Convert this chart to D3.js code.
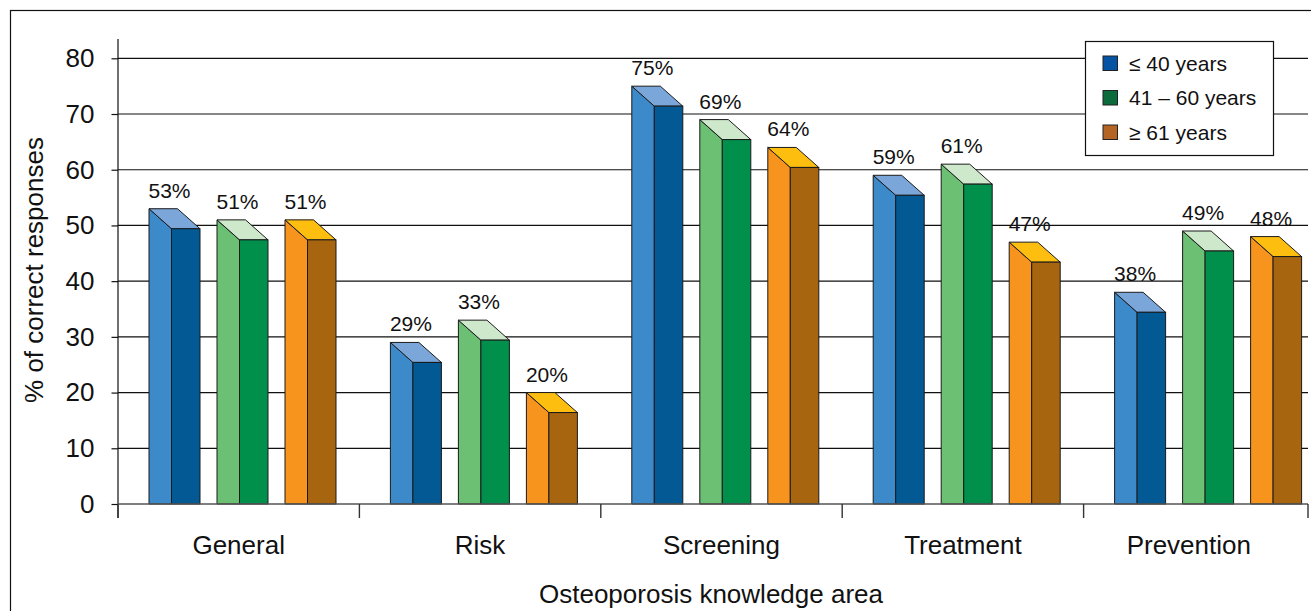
<!DOCTYPE html>
<html>
<head>
<meta charset="utf-8">
<script src="https://cdn.jsdelivr.net/npm/d3@7"></script>
<style>
  html, body { margin: 0; padding: 0; background: #fff; }
  svg { display: block; }
  text { font-family: "Liberation Sans", Arial, Helvetica, sans-serif; fill: #111; }
</style>
</head>
<body>
<svg id="chart" width="1311" height="611"></svg>
<script>
// Knowledge areas and age groups
const categories = ["General", "Risk", "Screening", "Treatment", "Prevention"];
const series = ["≤ 40 years", "41 – 60 years", "≥ 61 years"];

// % of correct responses per age group
const ageUpTo40 = [53, 29, 75, 59, 38];
const age41to60 = [51, 33, 69, 61, 49];
const age61plus = [51, 20, 64, 47, 48];

const yTicks = [0, 10, 20, 30, 40, 50, 60, 70, 80];

const values = [ageUpTo40, age41to60, age61plus];

// Face colours for each series: side, front, top, legend swatch
const palette = [
  { side: "#3D8ACA", front: "#025994", top: "#7BA6DA", swatch: "#0554A4" },
  { side: "#6CC074", front: "#00904C", top: "#CDE8CA", swatch: "#0C6B3A" },
  { side: "#F7941E", front: "#A86510", top: "#FEBE10", swatch: "#B46423" }
];

const svg = d3.select("#chart");

// Outer frame
svg.append("rect")
  .attr("x", 10.5).attr("y", 10.5)
  .attr("width", 1330).attr("height", 640)
  .attr("fill", "none").attr("stroke", "#111").attr("stroke-width", 1.2);

const left = 118, right = 1308;
const y = d3.scaleLinear().domain([0, 80]).range([504, 58.3]);
const x0 = d3.scaleBand().domain(categories).range([left, left + 5 * 241.4]);
const x1 = d3.scaleBand().domain(series).range([31, 31 + 3 * 68]);

// 3D bar geometry
const faceW = 28.5, dx = 22.5, dy = 20;

// Gridlines
svg.append("g").selectAll("line")
  .data(yTicks.filter(t => t > 0))
  .join("line")
  .attr("x1", left).attr("x2", right)
  .attr("y1", d => y(d)).attr("y2", d => y(d))
  .attr("stroke", "#111").attr("stroke-width", 1.2);

// Y axis
const yAxis = d3.axisLeft(y).tickValues(yTicks).tickSize(6.5).tickPadding(17);
const gy = svg.append("g").attr("transform", `translate(${left},0)`).call(yAxis);
gy.select(".domain").remove();
gy.selectAll(".tick line").attr("stroke", "#111").attr("stroke-width", 1.2);
gy.selectAll(".tick text")
  .style("font-size", "26px")
  .style("font-family", "'Liberation Sans', Arial, sans-serif")
  .attr("fill", "#111");
svg.append("line")
  .attr("x1", left).attr("x2", left)
  .attr("y1", 39).attr("y2", 518)
  .attr("stroke", "#111").attr("stroke-width", 1.2);

// Bars
const bars = [];
categories.forEach((c, i) => {
  series.forEach((s, j) => {
    bars.push({ cat: c, ser: s, j, v: values[j][i] });
  });
});

const gBars = svg.append("g");
const base = y(0);
bars.forEach(b => {
  const xb = x0(b.cat) + x1(b.ser);
  const yt = y(b.v);
  const col = palette[b.j];
  const g = gBars.append("g");
  g.append("polygon")
    .attr("points", [[xb, yt], [xb + dx, yt + dy], [xb + dx, base], [xb, base]].map(p => p.join(",")).join(" "))
    .attr("fill", col.side).attr("stroke", "#1a1a1a").attr("stroke-width", 1).attr("stroke-linejoin", "round");
  g.append("polygon")
    .attr("points", [[xb, yt], [xb + faceW, yt], [xb + faceW + dx, yt + dy], [xb + dx, yt + dy]].map(p => p.join(",")).join(" "))
    .attr("fill", col.top).attr("stroke", "#1a1a1a").attr("stroke-width", 1).attr("stroke-linejoin", "round");
  g.append("rect")
    .attr("x", xb + dx).attr("y", yt + dy)
    .attr("width", faceW).attr("height", base - yt - dy)
    .attr("fill", col.front).attr("stroke", "#1a1a1a").attr("stroke-width", 1);
  g.append("text")
    .attr("x", xb + dx - 2).attr("y", yt - 11)
    .attr("text-anchor", "middle")
    .style("font-size", "21px")
    .text(b.v + "%");
});

// X axis line and category separators
svg.append("line")
  .attr("x1", left).attr("x2", right)
  .attr("y1", base).attr("y2", base)
  .attr("stroke", "#555").attr("stroke-width", 1.6);
const sepTicks = categories.map(c => x0(c)).concat([right]);
svg.append("g").selectAll("line")
  .data(sepTicks)
  .join("line")
  .attr("x1", d => d).attr("x2", d => d)
  .attr("y1", base).attr("y2", 518)
  .attr("stroke", "#333").attr("stroke-width", 1.4);

// Category labels, centred on the visible part of each band
svg.append("g").selectAll("text")
  .data(categories)
  .join("text")
  .attr("x", c => (x0(c) + Math.min(x0(c) + x0.bandwidth(), right)) / 2 - (x0(c) + x0.bandwidth() > right ? 7 : 0))
  .attr("y", 554)
  .attr("text-anchor", "middle")
  .style("font-size", "26px")
  .text(c => c);

// Axis titles
svg.append("text")
  .attr("x", 711).attr("y", 603)
  .attr("text-anchor", "middle")
  .style("font-size", "26px")
  .text("Osteoporosis knowledge area");

svg.append("text")
  .attr("transform", "translate(43,270) rotate(-90)")
  .attr("text-anchor", "middle")
  .style("font-size", "26px")
  .text("% of correct responses");

// Legend
const lg = svg.append("g");
lg.append("rect")
  .attr("x", 1085.5).attr("y", 41.5)
  .attr("width", 188).attr("height", 114)
  .attr("fill", "#fff").attr("stroke", "#111").attr("stroke-width", 1.2);
series.forEach((s, j) => {
  const yy = 56 + j * 34.5;
  lg.append("rect")
    .attr("x", 1103).attr("y", yy)
    .attr("width", 14.5).attr("height", 14.5)
    .attr("fill", palette[j].swatch).attr("stroke", "#222").attr("stroke-width", 1);
  lg.append("text")
    .attr("x", 1129).attr("y", yy + 14.5)
    .style("font-size", "21px")
    .text(s);
});
</script>
</body>
</html>
